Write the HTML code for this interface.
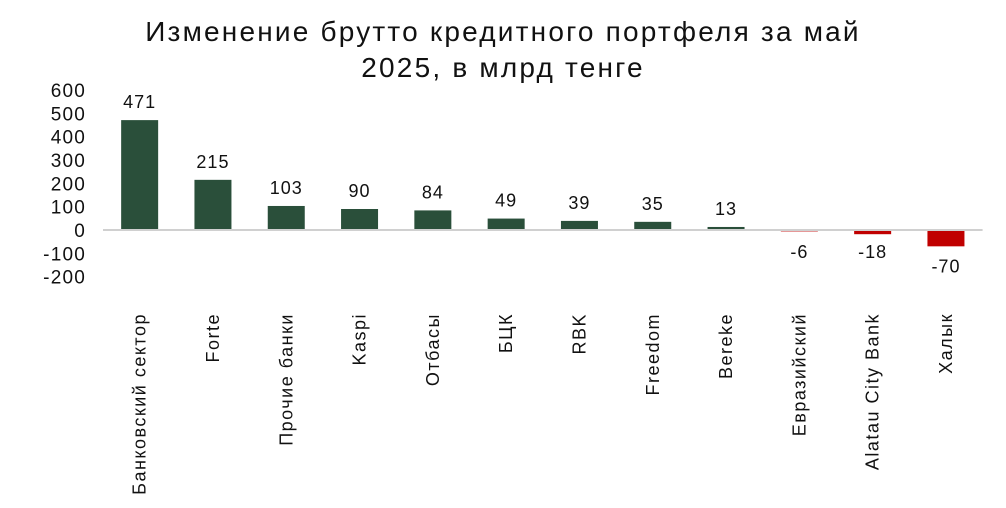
<!DOCTYPE html>
<html><head><meta charset="utf-8"><style>
body{margin:0;background:#fff;width:1006px;height:503px;overflow:hidden}
text{font-family:"Liberation Sans",sans-serif;fill:#111}
</style></head><body>
<svg id="chart" width="1006" height="503" xmlns="http://www.w3.org/2000/svg">
<text x="503" y="41" text-anchor="middle" font-size="28" letter-spacing="2.2">Изменение брутто кредитного портфеля за май</text>
<text x="503" y="77" text-anchor="middle" font-size="28" letter-spacing="2.2">2025, в млрд тенге</text>
<g id="yaxis"></g><g id="bars"></g>
</svg>
<script>
const categories=["Банковский сектор","Forte","Прочие банки","Kaspi","Отбасы","БЦК","RBK","Freedom","Bereke","Евразийский","Alatau City Bank","Халык"];
const values=[471,215,103,90,84,49,39,35,13,-6,-18,-70];
const yTicks=[600,500,400,300,200,100,0,-100,-200];
const ns="http://www.w3.org/2000/svg";
const svg=document.getElementById('chart');
const y0=230, k=0.2333;
const yScale=v=>y0-v*k;
const x0=103, step=73.3;
const xScale=i=>x0+step*(i+0.5);
function mk(t,a){const e=document.createElementNS(ns,t);for(const n in a)e.setAttribute(n,a[n]);return e;}
const ya=document.getElementById('yaxis');
yTicks.forEach(v=>{const t=mk('text',{x:86,y:yScale(v)+7,'text-anchor':'end','font-size':19,'letter-spacing':1.2});


t.textContent=v;ya.appendChild(t);});
const bg=document.getElementById('bars');
values.forEach((v,i)=>{const cx=xScale(i);
const r=mk('rect',{x:cx-18.5,y:Math.min(yScale(v),y0),width:37,height:Math.abs(v*k),fill:v>=0?'#2a4f3a':'#c00000'});


bg.appendChild(r);
const l=mk('text',{x:cx,y:v>=0?yScale(v)-12:y0+28,'text-anchor':'middle','font-size':18,'letter-spacing':1});
if(v<0&&Math.abs(v*k)>10)l.setAttribute('y',yScale(v)+26);


l.textContent=v;bg.appendChild(l);
const c=mk('text',{x:0,y:0,'text-anchor':'end','font-size':18,'letter-spacing':1.5,transform:`translate(${cx+6},313) rotate(-90)`});


c.textContent=categories[i];bg.appendChild(c);});
const ax=mk('line',{x1:x0,x2:x0+step*categories.length,y1:y0,y2:y0,stroke:'#d0d0d0','stroke-width':2});


svg.appendChild(ax);
</script>
</body></html>
